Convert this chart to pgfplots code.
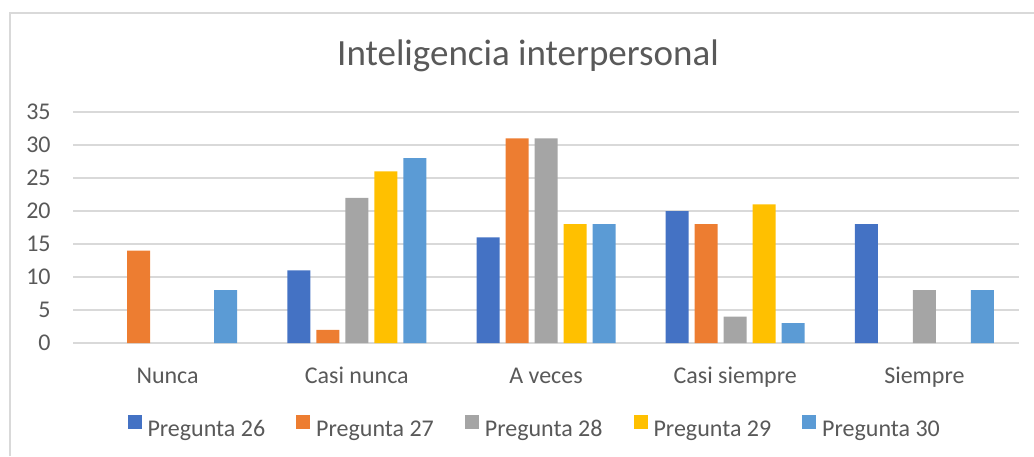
\documentclass[border=0pt]{standalone}
\usepackage{fontspec}
\setmainfont{Carlito}
\usepackage{pgfplots}
\pgfplotsset{compat=1.18}
\definecolor{txt}{HTML}{595959}
\definecolor{gridc}{HTML}{D9D9D9}
\definecolor{cA}{HTML}{4472C4}
\definecolor{cB}{HTML}{ED7D31}
\definecolor{cC}{HTML}{A5A5A5}
\definecolor{cD}{HTML}{FFC000}
\definecolor{cE}{HTML}{5B9BD5}
\begin{document}
\begin{tikzpicture}
\useasboundingbox (0pt,0pt) rectangle (517pt,228pt);
\draw[gridc, line width=1pt] (5pt,0pt) -- (5pt,221.5pt) -- (517pt,221.5pt);
\node[anchor=base, font=\fontsize{18.5pt}{22pt}\selectfont, text=txt, inner sep=0pt]
  at (264pt,195pt) {Inteligencia interpersonal};
\begin{axis}[
  at={(36.5pt,56.5pt)}, anchor=south west,
  scale only axis, width=473pt, height=115.5pt,
  ybar=3pt, bar width=11.5pt,
  xmin=-0.5, xmax=4.5, ymin=0, ymax=35,
  xtick={0,...,4}, xticklabels={Nunca,Casi nunca,A veces,Casi siempre,Siempre},
  ytick={0,5,...,35},
  axis line style={draw=none},
  major tick length=0pt,
  ymajorgrids, grid style={gridc, line width=0.75pt},
  tick label style={font=\fontsize{12pt}{14pt}\selectfont, text=txt},
  /pgf/number format/assume math mode=true,
  xticklabel style={anchor=base, inner sep=0pt, yshift=-20pt},
  yticklabel style={anchor=east, inner sep=0pt, xshift=-11pt},
  legend columns=5,
  legend style={draw=none, at={(axis description cs:0.487,-0.368)}, anchor=center,
    font=\fontsize{12pt}{14pt}\selectfont, text=txt,
    nodes={inner sep=0pt, text height=8.5pt, text depth=2.5pt},
    /tikz/every odd column/.append style={column sep=3pt},
    /tikz/every even column/.append style={column sep=15.5pt}},
  legend image code/.code={\fill[#1] (0pt,0.65pt) rectangle (7pt,7.65pt);},
]
\addplot[fill=cA, draw=none] coordinates {(1,11) (2,16) (3,20) (4,18)};
\addplot[fill=cB, draw=none] coordinates {(0,14) (1,2) (2,31) (3,18)};
\addplot[fill=cC, draw=none] coordinates {(1,22) (2,31) (3,4) (4,8)};
\addplot[fill=cD, draw=none] coordinates {(1,26) (2,18) (3,21)};
\addplot[fill=cE, draw=none] coordinates {(0,8) (1,28) (2,18) (3,3) (4,8)};
\legend{Pregunta 26,Pregunta 27,Pregunta 28,Pregunta 29,Pregunta 30}
\end{axis}
\end{tikzpicture}
\end{document}
